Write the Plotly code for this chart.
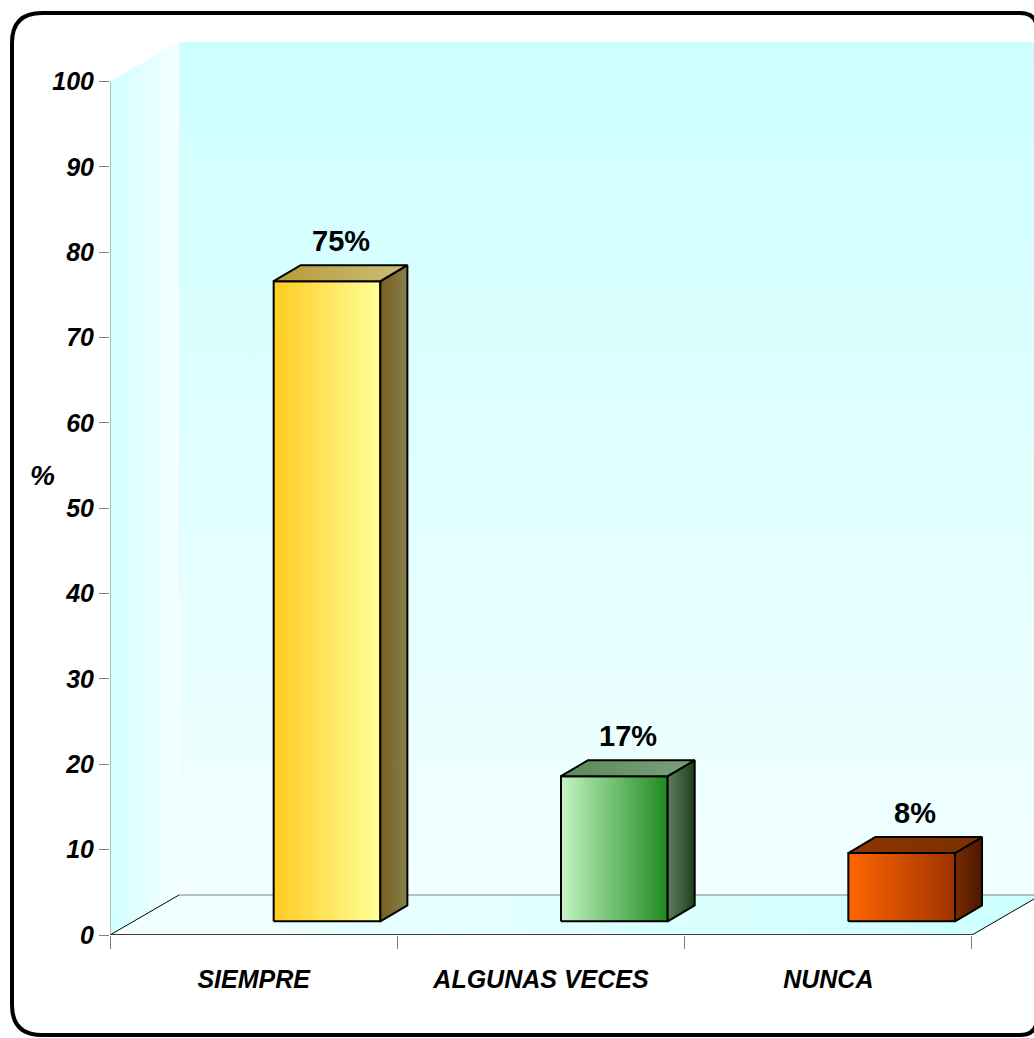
import plotly.graph_objects as go

# ---------------- data ----------------
categories = ["SIEMPRE", "ALGUNAS VECES", "NUNCA"]
values = [75, 17, 8]
value_labels = ["75%", "17%", "8%"]
y_ticks = [0, 10, 20, 30, 40, 50, 60, 70, 80, 90, 100]
y_title = "%"

# ---------------- styling ----------------
W, H = 1034, 1038
ML, MT, MB = 110, 42, 103
PW, PH = W - ML, H - MT - MB
PX_PER_CAT = 287.33
PX_PER_UNIT = 8.536
XMIN = -0.5
XMAX = XMIN + PW / PX_PER_CAT
YMAX = PH / PX_PER_UNIT

DX = 69 / PX_PER_CAT      # depth of walls/floor (x units)
DY = 40 / PX_PER_UNIT     # depth of walls/floor (y units)
BAR_OFF = 20 / PX_PER_CAT
BAR_W = 106.7 / PX_PER_CAT
BAR_BASE = 1.6
BDX = 27 / PX_PER_CAT
BDY = 16 / PX_PER_UNIT

FONT = "Liberation Sans, Arial, sans-serif"

front_colors = ["#FFE066", "#72B872", "#CC4A00"]
front_grad = [["#FFCC22", "#FFFF99"], ["#C4F4C4", "#1E8A1E"], ["#FF6600", "#A03300"]]
side_grad = [["#7A5E1E", "#86804C"], ["#5E7E5E", "#1E3E1E"], ["#7A2C00", "#4A1800"]]
top_grad = [["#B89A3A", "#C8C078"], ["#5A8A5A", "#7CA07C"], ["#8C3600", "#7A3000"]]

fig = go.Figure()

def poly(xs, ys, c0, c1, gtype="horizontal", line=None):
    fig.add_trace(go.Scatter(
        x=xs + [xs[0]], y=ys + [ys[0]], mode="lines", fill="toself",
        fillgradient=dict(type=gtype, colorscale=[[0, c0], [1, c1]]),
        line=line or dict(width=0, color="rgba(0,0,0,0)"),
        hoverinfo="skip", showlegend=False))

def seg(x0, y0, x1, y1, color, width=1):
    fig.add_trace(go.Scatter(x=[x0, x1], y=[y0, y1], mode="lines",
                             line=dict(color=color, width=width),
                             hoverinfo="skip", showlegend=False))

n = len(categories)
xr = XMIN + n  # right end of the category axis
far = XMAX + 0.5

# back wall
poly([XMIN + DX, far, far, XMIN + DX], [DY, DY, YMAX + 5, YMAX + 5],
     "#F2FFFF", "#CCFFFF", gtype="vertical")
# left wall
poly([XMIN, XMIN + DX, XMIN + DX, XMIN], [0, DY, 100 + DY, 100],
     "#D0FFFF", "#F6FFFF", gtype="horizontal")
# floor
poly([XMIN, XMIN + DX, xr + DX, xr], [0, DY, DY, 0],
     "#F4FFFF", "#CCFFFF", gtype="horizontal")

# floor edges / axis lines
seg(XMIN + DX, DY, far, DY, "#808080", 1)
seg(XMIN, 0, XMIN + DX, DY, "#000000", 1)
seg(xr, 0, xr + DX, DY, "#000000", 1)
seg(XMIN, 0, xr, 0, "#000000", 1.5)
seg(XMIN, 0, XMIN, 100, "#808080", 1)

# front faces as real bars
fig.add_trace(go.Bar(
    x=list(range(n)), y=values, base=[BAR_BASE] * n,
    width=BAR_W, offset=BAR_OFF,
    marker=dict(color=front_colors, line=dict(color="#000000", width=2)),
    hoverinfo="skip", showlegend=False))

# shaded 3D faces built from the same values
for i, v in enumerate(values):
    xl = i + BAR_OFF
    xrr = xl + BAR_W
    b = BAR_BASE
    t = BAR_BASE + v
    blk = dict(color="#000000", width=2)
    poly([xl, xrr, xrr, xl], [b, b, t, t], front_grad[i][0], front_grad[i][1],
         "horizontal", blk)
    poly([xrr, xrr + BDX, xrr + BDX, xrr], [b, b + BDY, t + BDY, t],
         side_grad[i][0], side_grad[i][1], "horizontal", blk)
    poly([xl, xl + BDX, xrr + BDX, xrr], [t, t + BDY, t + BDY, t],
         top_grad[i][0], top_grad[i][1], "horizontal", blk)
    fig.add_annotation(x=xl + BAR_W / 2 + BDX / 2, y=t + BDY, text=value_labels[i],
                       showarrow=False, yanchor="bottom", yshift=6,
                       font=dict(family=FONT, size=29, color="#000000", weight="bold"))

# invisible trace for category-label axis
fig.add_trace(go.Scatter(x=list(range(n)), y=[0] * n, xaxis="x2", mode="markers",
                         marker=dict(opacity=0), hoverinfo="skip", showlegend=False))

fig.add_annotation(xref="paper", yref="y", x=(42 - ML) / PW, y=(935 - 475) / PX_PER_UNIT,
                   text=y_title, showarrow=False, xanchor="center", yanchor="middle",
                   font=dict(family=FONT, size=28, color="#000000", weight="bold",
                             style="italic"))

# rounded frame (paper coords)
def px(x):
    return (x - ML) / PW

def py(y):
    return (935 - y) / PH

L, T, R, B = 12, 13, 1037, 1035
rl, rr = 30, 17
path = (f"M {px(L+rl)},{py(T)} L {px(R-rr)},{py(T)} Q {px(R)},{py(T)} {px(R)},{py(T+rr)} "
        f"L {px(R)},{py(B-rr)} Q {px(R)},{py(B)} {px(R-rr)},{py(B)} "
        f"L {px(L+rl)},{py(B)} Q {px(L)},{py(B)} {px(L)},{py(B-rl)} "
        f"L {px(L)},{py(T+rl)} Q {px(L)},{py(T)} {px(L+rl)},{py(T)} Z")
fig.add_shape(type="path", xref="paper", yref="paper", path=path,
              line=dict(color="#000000", width=4), layer="above")

fig.update_layout(
    width=W, height=H, margin=dict(l=ML, r=0, t=MT, b=MB),
    paper_bgcolor="#FFFFFF", plot_bgcolor="rgba(0,0,0,0)",
    barmode="overlay", showlegend=False,
    xaxis=dict(range=[XMIN, XMAX], tickvals=[XMIN + k for k in range(n + 1)],
               ticks="outside", ticklen=13, tickcolor="#808080", tickwidth=1,
               showticklabels=False, showgrid=False, zeroline=False, showline=False,
               fixedrange=True),
    xaxis2=dict(range=[XMIN, XMAX], overlaying="x", side="bottom",
                tickvals=list(range(n)), ticktext=categories,
                ticks="outside", ticklen=22, tickcolor="rgba(0,0,0,0)",
                tickfont=dict(family=FONT, size=25, color="#000000", weight="bold",
                              style="italic"),
                showgrid=False, zeroline=False, showline=False, fixedrange=True),
    yaxis=dict(range=[0, YMAX], tickvals=y_ticks, ticks="outside", ticklen=10,
               tickcolor="#808080", tickwidth=1,
               tickfont=dict(family=FONT, size=25, color="#000000", weight="bold",
                             style="italic"),
               showgrid=False, zeroline=False, showline=False, fixedrange=True),
)

fig.write_html("out.html")
